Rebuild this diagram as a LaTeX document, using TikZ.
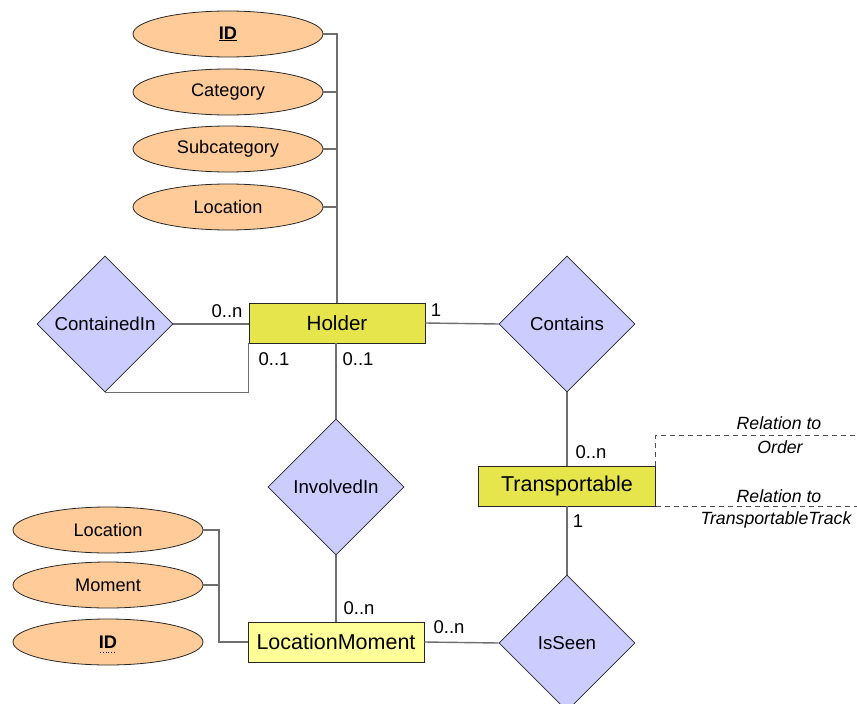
\documentclass[tikz,border=0pt]{standalone}
\usepackage{fontspec}
\setmainfont{Liberation Sans}
\usetikzlibrary{shapes.geometric,calc}

\definecolor{attrfill}{RGB}{255,204,153}
\definecolor{relfill}{RGB}{204,204,255}
\definecolor{entfill}{RGB}{230,230,76}
\definecolor{weakfill}{RGB}{255,255,153}
\definecolor{linkgray}{RGB}{110,110,110}

\tikzset{
  attr/.style={ellipse, draw=black!85, line width=0.8pt, fill=attrfill, minimum width=190pt, minimum height=46pt, inner sep=0pt, font=\fontsize{18.2}{21}\selectfont},
  rel/.style={diamond, draw=black!85, line width=0.8pt, fill=relfill, minimum width=136pt, minimum height=136pt, inner sep=0pt, font=\fontsize{18.7}{22}\selectfont},
  entity/.style={rectangle, draw=black!85, line width=0.8pt, fill=entfill, minimum width=176pt, minimum height=40pt, inner sep=0pt, font=\fontsize{20.6}{24}\selectfont},
  link/.style={draw=linkgray, line width=1.4pt},
  card/.style={inner sep=0pt, font=\fontsize{18.5}{21}\selectfont},
  note/.style={inner sep=0pt, font=\fontsize{17.7}{21}\selectfont\itshape},
  noteline/.style={draw=black!70, line width=0.9pt, dash pattern=on 5pt off 4pt}
}

\begin{document}
\begin{tikzpicture}[x=1pt,y=-1pt]
\useasboundingbox (0,0) rectangle (857,704);

% attributes of Holder
\node[attr] (hid)  at (228,34)  {\underline{\textbf{ID}}};
\node[attr] (hcat) at (228,92)  {Category};
\node[attr] (hsub) at (228,149) {Subcategory};
\node[attr] (hloc) at (228,207) {Location};

% entities
\node[entity] (holder) at (337,323) {Holder};
\node[entity, minimum width=177pt, font=\fontsize{21.5}{25}\selectfont] (trans) at (567,486) {Transportable};
\node[entity, fill=weakfill, minimum width=176pt, font=\fontsize{21.5}{25}\selectfont] (lm) at (336,642) {LocationMoment};

% relationships
\node[rel] (cin)  at (105,324) {ContainedIn};
\node[rel] (cont) at (567,324) {Contains};
\node[rel] (inv)  at (336,487) {InvolvedIn};
\node[rel] (seen) at (567,643) {IsSeen};

% attributes of LocationMoment
\node[attr] (mloc) at (108,530) {Location};
\node[attr] (mmom) at (108,585) {Moment};
\node[attr] (mid)  at (108,642) {\textbf{ID}};
\draw[black, line width=0.8pt, dotted] ($(mid)+(-8,10)$) -- ($(mid)+(8,10)$);

% attribute connectors
\draw[link] (hid.east) -| (holder.north);
\draw[link] (hcat.east) -- (hcat.east -| holder.north);
\draw[link] (hsub.east) -- (hsub.east -| holder.north);
\draw[link] (hloc.east) -- (hloc.east -| holder.north);

\coordinate (bus) at (219,530);
\draw[link] (mloc.east) -- (bus) |- (lm.west);
\draw[link] (mmom.east) -- (mmom.east -| bus);

% relationship connectors
\draw[link] (cin.east) -- (cin.east -| holder.west);
\draw[link] (cin.south) -| (holder.south west);
\draw[link] (holder.east) -- (cont.west);
\draw[link] (cont.south) -- (trans.north);
\draw[link] (holder.south -| inv.north) -- (inv.north);
\draw[link] (inv.south) -- (lm.north);
\draw[link] (lm.east) -- (seen.west);
\draw[link] (trans.south) -- (seen.north);

% cardinalities
\node[card] (c1) at (227,311) {0..n};
\node[card] (c2) at (274,359) {0..1};
\node[card] (c3) at (358,359) {0..1};
\node[card] (c4) at (436,310) {1};
\node[card] (c5) at (591,452) {0..n};
\node[card] (c6) at (578,521) {1};
\node[card] (c7) at (359,608) {0..n};
\node[card] (c8) at (449,627) {0..n};

% relations to other diagrams
\coordinate (ordend) at (857,435);
\coordinate (trkend) at (857,506);
\draw[noteline] (trans.north east) |- (ordend);
\draw[noteline] (trans.south east) -- (trans.south east -| trkend);
\node[note] (r1) at (779,423) {Relation to};
\node[note] (r2) at (780,447) {Order};
\node[note] (r3) at (779,496) {Relation to};
\node[note] (r4) at (776,520) {TransportableTrack};
\end{tikzpicture}
\end{document}
